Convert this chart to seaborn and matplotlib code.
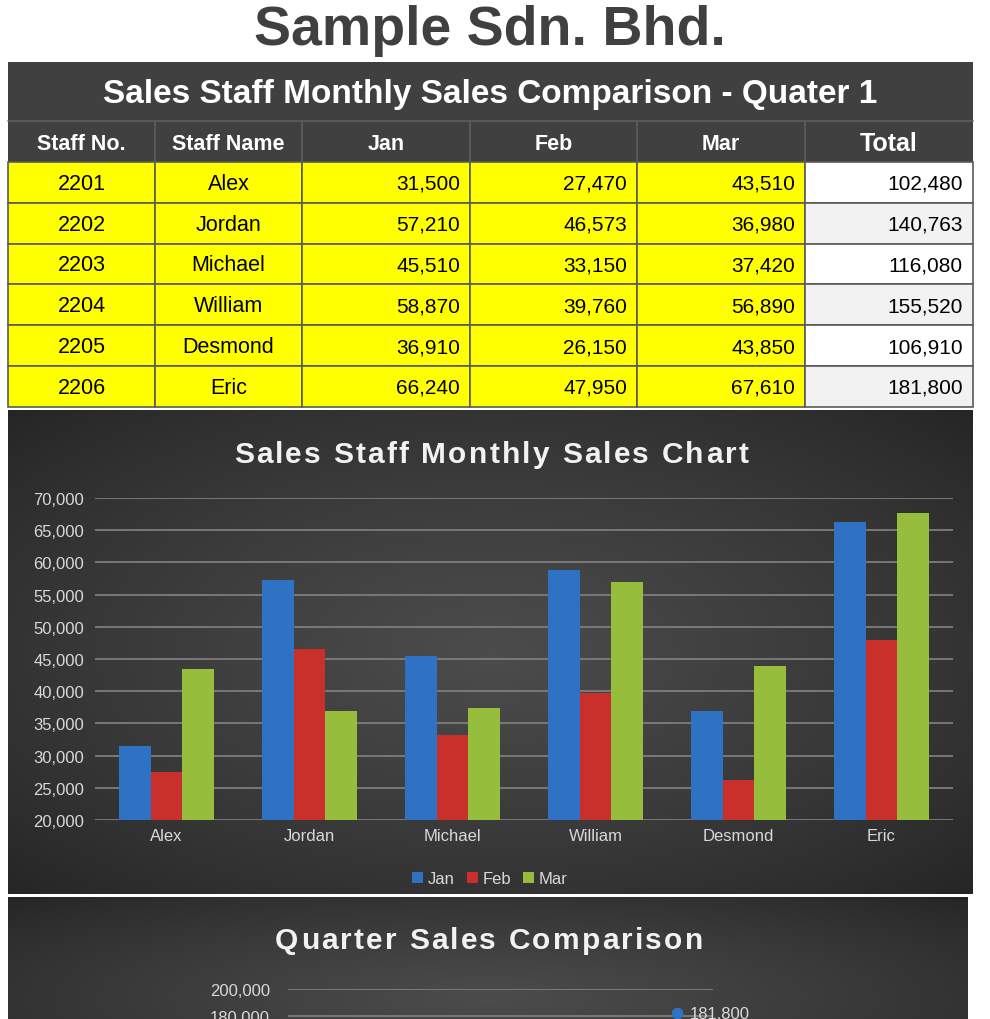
import numpy as np
import pandas as pd
import matplotlib
matplotlib.use("Agg")
import matplotlib.pyplot as plt
from matplotlib.patches import Rectangle
from matplotlib.colors import LinearSegmentedColormap
from matplotlib.ticker import FuncFormatter
import seaborn as sns

# data
staff_no = [2201, 2202, 2203, 2204, 2205, 2206]
staff_names = ["Alex", "Jordan", "Michael", "William", "Desmond", "Eric"]
months = ["Jan", "Feb", "Mar"]
jan = [31500, 57210, 45510, 58870, 36910, 66240]
feb = [27470, 46573, 33150, 39760, 26150, 47950]
mar = [43510, 36980, 37420, 56890, 43850, 67610]
total = [102480, 140763, 116080, 155520, 106910, 181800]
bar_ticks = [20000, 25000, 30000, 35000, 40000, 45000, 50000, 55000, 60000, 65000, 70000]
quarter_ticks = [100000, 120000, 140000, 160000, 180000, 200000]

sns.set_style("dark")
plt.rcParams["font.family"] = ["Liberation Sans", "DejaVu Sans"]

W, H = 990, 1020
fig = plt.figure(figsize=(9.9, 10.2), dpi=100)
fig.patch.set_facecolor("white")


def frac(x0, y0, x1, y1):
    # pixel box -> figure fraction
    return [x0 / W, 1 - y1 / H, (x1 - x0) / W, (y1 - y0) / H]


#background canvas in pixel units
bg = fig.add_axes([0, 0, 1, 1])
bg.axis("off")
bg.set_xlim(0, W)
bg.set_ylim(H, 0)

dark_cmap = LinearSegmentedColormap.from_list("panel", ["#232323", "#4c4c4c"])


def panel(x0, y0, x1, y1):
    yy, xx = np.mgrid[-1:1:300j, -1:1:300j]
    r = np.sqrt(xx ** 2 + yy ** 2)
    img = np.clip(1 - r / 1.45, 0, 1) ** 0.8
    bg.imshow(img, extent=(x0, x1, y1, y0), cmap=dark_cmap, vmin=0, vmax=1,
              aspect="auto", interpolation="bilinear", zorder=0)


renderer = fig.canvas.get_renderer()


def spaced_text(xc, y, s, spacing, **kw):
    # letter-spaced title, centred on xc
    def width(txt):
        t = bg.text(0, 0, txt, **kw)
        w = t.get_window_extent(renderer).width
        t.remove()
        return w
    base = width("||")
    widths = [width("|" + ch + "|") - base for ch in s]
    x = xc - (sum(widths) + spacing * (len(s) - 1)) / 2
    for ch, w in zip(s, widths):
        bg.text(x, y, ch, ha="left", va="center", zorder=3, **kw)
        x += w + spacing


panel(8, 411, 973, 895)
panel(8, 898, 968, 1100)

#company title
bg.text(490, 31, "Sample Sdn. Bhd.", ha="center", va="center", fontsize=40,
        fontweight="bold", color="#404040")

#table
col_edges = [8, 155, 302, 470, 637, 805, 973]
row_h = 40.8
line_c = "#5a5a5a"
bg.add_patch(Rectangle((8, 63), 965, 100, facecolor="#404040", edgecolor="none", zorder=1))
bg.plot([8, 973], [122, 122], color="#5e5e5e", lw=1.2, zorder=2)
for xe in col_edges[1:-1]:
    bg.plot([xe, xe], [122, 163], color="#5e5e5e", lw=1.2, zorder=2)
bg.text(490, 95, "Sales Staff Monthly Sales Comparison - Quater 1", ha="center",
        va="center", fontsize=24, fontweight="bold", color="white", zorder=3)

headers = ["Staff No.", "Staff Name", "Jan", "Feb", "Mar", "Total"]
for i, h in enumerate(headers):
    cx = (col_edges[i] + col_edges[i + 1]) / 2
    bg.text(cx, 144, h, ha="center", va="center", color="white", zorder=3,
            fontsize=18 if h == "Total" else 15.5, fontweight="heavy" if h == "Total" else "bold")

for r in range(6):
    y0 = 163 + r * row_h
    yc = y0 + row_h / 2 + 1
    row_vals = [str(staff_no[r]), staff_names[r], f"{jan[r]:,}", f"{feb[r]:,}",
                f"{mar[r]:,}", f"{total[r]:,}"]
    for c in range(6):
        x0, x1 = col_edges[c], col_edges[c + 1]
        if c < 5:
            fc = "#ffff00"
        else:
            fc = "#ffffff" if r % 2 == 0 else "#f2f2f2"
        bg.add_patch(Rectangle((x0, y0), x1 - x0, row_h, facecolor=fc,
                               edgecolor=line_c, lw=1.2, zorder=1))
        if c < 2:
            bg.text((x0 + x1) / 2, yc, row_vals[c], ha="center", va="center",
                    fontsize=15.5, color="black", zorder=3)
        else:
            bg.text(x1 - 10, yc, row_vals[c], ha="right", va="center",
                    fontsize=15, color="black", zorder=3)

#bar chart
df = pd.DataFrame({
    "Staff": staff_names * 3,
    "Month": np.repeat(months, len(staff_names)),
    "Sales": jan + feb + mar,
})
palette = ["#2F72C4", "#C9302C", "#96BE3C"]
grid_c = "#7d7d7d"
tick_c = "#d9d9d9"

ax = fig.add_axes(frac(95, 499, 953, 821))
ax.set_facecolor("none")
sns.barplot(data=df, x="Staff", y="Sales", hue="Month", palette=palette,
            width=0.664, gap=0, saturation=1, linewidth=0, edgecolor="none",
            ax=ax, zorder=3)
ax.set_ylim(20000, 70000)
ax.set_xlim(-0.5, 5.5)
ax.set_yticks(bar_ticks)
ax.yaxis.set_major_formatter(FuncFormatter(lambda v, p: f"{v:,.0f}"))
ax.grid(axis="y", color=grid_c, lw=1.3, zorder=0)
ax.grid(axis="x", visible=False)
for s in ax.spines.values():
    s.set_visible(False)
ax.tick_params(axis="both", length=0, labelsize=12, labelcolor=tick_c)
ax.tick_params(axis="y", pad=8)
ax.tick_params(axis="x", pad=6)
ax.set_xlabel("")
ax.set_ylabel("")
handles, labels = ax.get_legend_handles_labels()
ax.legend(handles, labels, loc="center", bbox_to_anchor=(490 / W, 1 - 880 / H),
          bbox_transform=fig.transFigure, ncol=3, frameon=False, fontsize=12,
          labelcolor=tick_c, handlelength=0.65, handleheight=0.65,
          handletextpad=0.3, columnspacing=0.7)
spaced_text(491, 455, "Sales Staff Monthly Sales Chart", 2.2,
            fontsize=21.5, fontweight="bold", color="#f2f2f2")

#quarter chart (cut off at the bottom)
ax2 = fig.add_axes(frac(288, 990, 713, 1125))
ax2.set_facecolor("none")
qdf = pd.DataFrame({"Staff": staff_names, "Total": total})
sns.scatterplot(data=qdf, x="Staff", y="Total", color="#2F72C4", s=70,
                edgecolor="none", ax=ax2, zorder=3, clip_on=False)
ax2.set_xlim(-0.5, 5.5)
ax2.set_ylim(100000, 200000)
# only the top point's label is inside the visible strip
for i, v in enumerate(total):
    if v >= 178000:
        ax2.annotate(f"{v:,}", (i, v), xytext=(9, 0), textcoords="offset points",
                     va="center", ha="left", fontsize=12, color=tick_c)
ax2.set_yticks(quarter_ticks)
ax2.yaxis.set_major_formatter(FuncFormatter(lambda v, p: f"{v:,.0f}"))
ax2.grid(axis="y", color=grid_c, lw=1.3, zorder=0)
ax2.grid(axis="x", visible=False)
for s in ax2.spines.values():
    s.set_visible(False)
ax2.tick_params(axis="both", length=0, labelsize=12, labelcolor=tick_c)
ax2.tick_params(axis="y", pad=13)
ax2.set_xticklabels([])
ax2.set_xlabel("")
ax2.set_ylabel("")
spaced_text(489, 941, "Quarter Sales Comparison", 2.2,
            fontsize=21.5, fontweight="bold", color="#f2f2f2")

bg.set_xlim(0, W)
bg.set_ylim(H, 0)
fig.savefig("out.png", dpi=100)
